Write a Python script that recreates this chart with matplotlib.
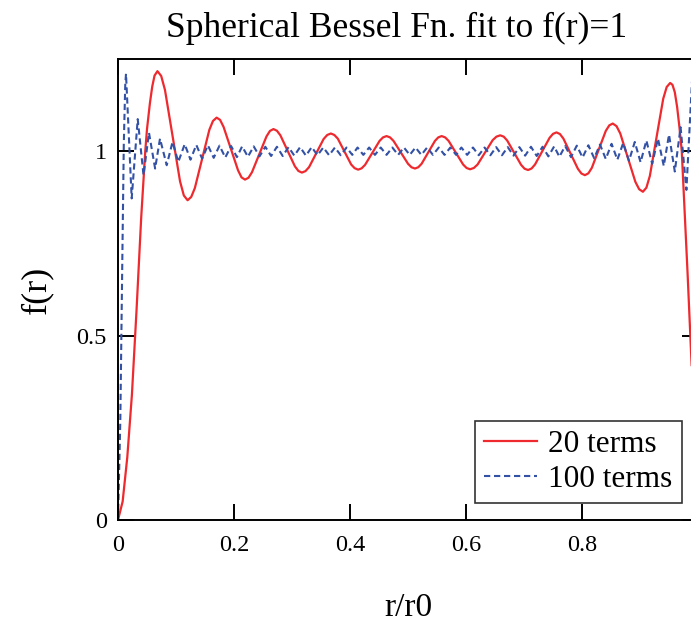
import matplotlib
matplotlib.use("Agg")
import matplotlib.pyplot as plt

# === 20-term curve (r/r0, f(r))
red_x = [0, 0.008, 0.016, 0.024, 0.032, 0.040, 0.047, 0.050, 0.055, 0.059, 0.063, 0.068,
         0.0745, 0.081, 0.094, 0.107, 0.1135, 0.120,
         0.12625, 0.1325, 0.145, 0.1575, 0.16375, 0.170,
         0.176, 0.182, 0.1945, 0.207, 0.213, 0.219,
         0.225, 0.231, 0.2435, 0.256, 0.262, 0.268,
         0.274, 0.280, 0.2925, 0.305, 0.311, 0.317,
         0.32325, 0.3295, 0.342, 0.3545, 0.36075, 0.367,
         0.373, 0.379, 0.3905, 0.402, 0.408, 0.414,
         0.420, 0.426, 0.4385, 0.451, 0.457, 0.463,
         0.469, 0.475, 0.4875, 0.500, 0.506, 0.512,
         0.51775, 0.5235, 0.535, 0.5465, 0.55225, 0.558,
         0.564, 0.570, 0.5825, 0.595, 0.601, 0.607,
         0.6135, 0.620, 0.633, 0.646, 0.6525, 0.659,
         0.665, 0.671, 0.683, 0.695, 0.701, 0.707,
         0.713, 0.719, 0.7315, 0.744, 0.750, 0.756,
         0.762, 0.768, 0.7805, 0.793, 0.799, 0.805,
         0.811, 0.817, 0.829, 0.841, 0.847, 0.853,
         0.8595, 0.866, 0.879, 0.892, 0.8985, 0.905,
         0.911, 0.917, 0.9285, 0.940, 0.946, 0.952,
         0.956, 0.960, 0.964, 0.968, 0.972, 0.976, 0.979, 0.982, 0.986, 0.989]
red_y = [0, 0.05, 0.17, 0.34, 0.57, 0.82, 1.00, 1.06, 1.13, 1.175, 1.205, 1.217,
         1.204, 1.166, 1.042, 0.918, 0.880, 0.867,
         0.876, 0.900, 0.979, 1.058, 1.082, 1.091,
         1.085, 1.066, 1.007, 0.948, 0.929, 0.923,
         0.928, 0.943, 0.9915, 1.040, 1.055, 1.060,
         1.0555, 1.043, 1.001, 0.959, 0.9465, 0.942,
         0.946, 0.957, 0.995, 1.033, 1.044, 1.048,
         1.044, 1.034, 0.999, 0.964, 0.954, 0.950,
         0.9535, 0.963, 0.9955, 1.028, 1.0375, 1.041,
         1.0375, 1.028, 0.997, 0.966, 0.9565, 0.953,
         0.9565, 0.966, 0.997, 1.028, 1.0375, 1.041,
         1.0375, 1.028, 0.996, 0.964, 0.9545, 0.951,
         0.9545, 0.964, 0.997, 1.030, 1.0395, 1.043,
         1.0395, 1.029, 0.996, 0.963, 0.9525, 0.949,
         0.953, 0.964, 1.000, 1.036, 1.047, 1.051,
         1.0465, 1.034, 0.993, 0.952, 0.9395, 0.935,
         0.940, 0.955, 1.005, 1.055, 1.070, 1.075,
         1.068, 1.048, 0.9825, 0.917, 0.897, 0.890,
         0.901, 0.933, 1.0375, 1.142, 1.174, 1.185,
         1.180, 1.16, 1.12, 1.065, 1.00, 0.87, 0.77, 0.67, 0.53, 0.42]

# === 100-term curve: rise and then the ripple peaks / troughs
blue_x = [0, 0.004, 0.007, 0.010, 0.0125, 0.0138, 0.0236, 0.034, 0.044, 0.0534,
          0.064, 0.0724, 0.084, 0.094, 0.104, 0.115,
          0.125, 0.135, 0.145, 0.155, 0.165, 0.175, 0.185, 0.195, 0.205,
          0.214, 0.224, 0.234, 0.244, 0.254, 0.264, 0.274, 0.284, 0.294, 0.304,
          0.314, 0.324, 0.334, 0.344, 0.354, 0.364, 0.374, 0.384, 0.394, 0.404,
          0.413, 0.423, 0.433, 0.443, 0.453, 0.463, 0.473, 0.483, 0.493, 0.503,
          0.513, 0.523, 0.533, 0.543, 0.553, 0.563, 0.573, 0.583, 0.592, 0.602,
          0.612, 0.622, 0.632, 0.642, 0.652, 0.662, 0.672, 0.682, 0.692, 0.702,
          0.712, 0.722, 0.732, 0.742, 0.752, 0.761, 0.771, 0.781, 0.791, 0.801,
          0.811, 0.821, 0.831, 0.841, 0.851, 0.861, 0.871, 0.881, 0.891, 0.901,
          0.911, 0.921, 0.931, 0.941, 0.950, 0.960, 0.970, 0.980, 0.990]
blue_y = [0, 0.27, 0.65, 1.02, 1.18, 1.21, 0.872, 1.087, 0.935, 1.050,
          0.953, 1.034, 0.962, 1.025, 0.971, 1.019,
          0.977, 1.017, 0.980, 1.016, 0.982, 1.015, 0.983, 1.014, 0.984,
          1.013, 0.985, 1.013, 0.986, 1.012, 0.987, 1.012, 0.987, 1.011, 0.988,
          1.011, 0.988, 1.011, 0.989, 1.010, 0.989, 1.010, 0.989, 1.010, 0.990,
          1.010, 0.990, 1.010, 0.990, 1.010, 0.990, 1.010, 0.990, 1.010, 0.990,
          1.010, 0.990, 1.010, 0.990, 1.010, 0.990, 1.010, 0.990, 1.010, 0.990,
          1.010, 0.989, 1.010, 0.989, 1.011, 0.989, 1.011, 0.988, 1.011, 0.988,
          1.012, 0.987, 1.012, 0.986, 1.013, 0.985, 1.014, 0.984, 1.015, 0.983,
          1.016, 0.981, 1.018, 0.979, 1.020, 0.977, 1.022, 0.974, 1.025, 0.970,
          1.029, 0.966, 1.034, 0.960, 1.045, 0.945, 1.065, 0.895, 1.200]

x_ticks = [0, 0.2, 0.4, 0.6, 0.8]
x_tick_labels = ["0", "0.2", "0.4", "0.6", "0.8"]
y_ticks = [0, 0.5, 1]
y_tick_labels = ["0", "0.5", "1"]

plt.rcParams["font.family"] = ["Liberation Serif", "DejaVu Serif"]

W, H = 691, 626
fig = plt.figure(figsize=(W / 100, H / 100), dpi=100)
# axes run off the right edge like the reference crop
ax = fig.add_axes([118 / W, 106 / H, 580 / W, 461 / H])

ax.plot(red_x, red_y, color="#ee2a2f", lw=1.6, label="20 terms")
ax.plot(blue_x, blue_y, color="#3352a6", lw=1.5, dashes=(3, 1.8), label="100 terms")

ax.set_xlim(0, 1)
ax.set_ylim(0, 1.25)
ax.set_xticks(x_ticks)
ax.set_xticklabels(x_tick_labels)
ax.set_yticks(y_ticks)
ax.set_yticklabels(y_tick_labels)
ax.tick_params(direction="in", length=11.5, width=1.4, labelsize=17.5,
               top=True, right=True, colors="black")
ax.tick_params(axis="x", pad=11)
ax.tick_params(axis="y", pad=8)
for s in ax.spines.values():
    s.set_linewidth(1.4)

ax.set_xlabel("r/r0", fontsize=24, labelpad=26)
fig.text(37 / W, 1 - 290 / H, "f(r)", fontsize=26, rotation=90, ha="center", va="center")
fig.text(397 / W, 1 - 28 / H, "Spherical Bessel Fn. fit to f(r)=1", fontsize=25.5,
         ha="center", va="center")

leg = ax.legend(loc="lower right", bbox_to_anchor=((682 - 118) / 580, (520 - 503) / 461),
                borderaxespad=0, fontsize=22.5, frameon=True, fancybox=False,
                handlelength=1.7, handletextpad=0.35, labelspacing=0.18,
                borderpad=0.3)
leg.get_frame().set_edgecolor("black")
leg.get_frame().set_linewidth(1.2)

fig.savefig("out.png", dpi=100)
